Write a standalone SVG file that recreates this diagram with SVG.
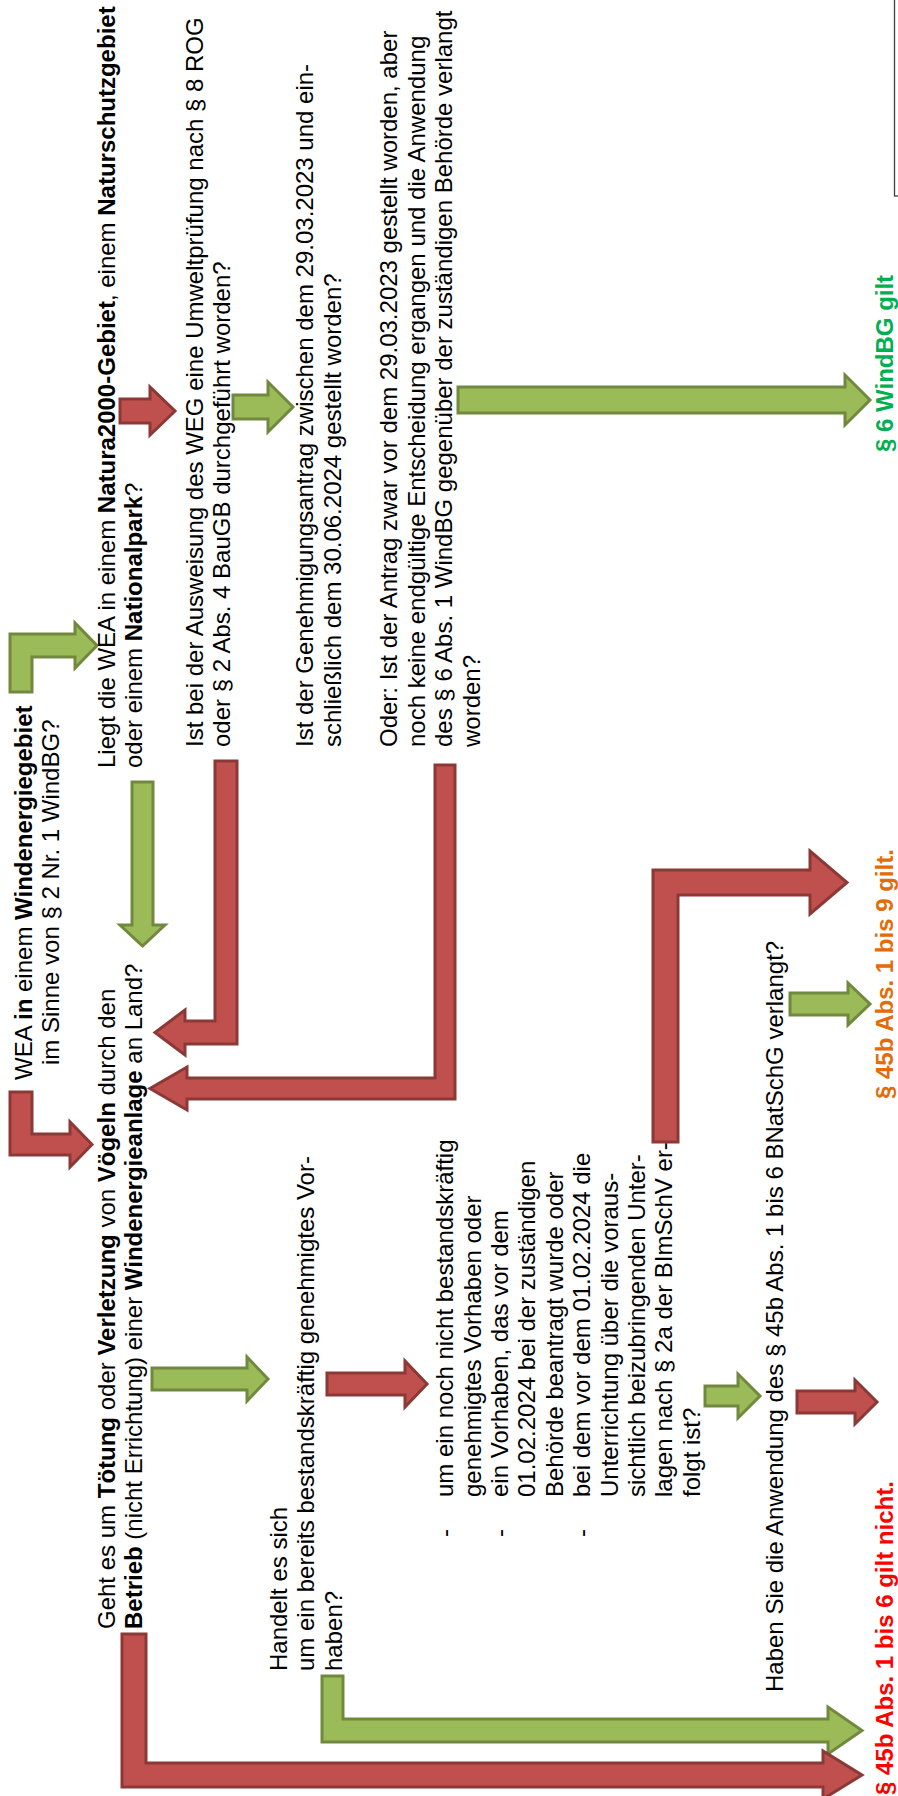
<svg xmlns="http://www.w3.org/2000/svg" width="898" height="1796" viewBox="0 0 898 1796">
<style>
.t{font-family:"Liberation Sans",Arial,sans-serif;font-size:24px;fill:#000}
.b{font-weight:bold}
.ar{fill:#C0504D;stroke:#8C3836;stroke-width:3;stroke-linejoin:miter}
.ag{fill:#9BBB59;stroke:#71893F;stroke-width:3;stroke-linejoin:miter}
.res{font-family:"Liberation Sans",Arial,sans-serif;font-size:24px;font-weight:bold}
</style>
<rect width="898" height="1796" fill="#fff"/>
<rect id="frame" x="894.5" y="-5" width="20" height="201" fill="none" stroke="#404040" stroke-width="1.3"/>
<g id="connectors">
<path class="ar" d="M10,1092 H32 V1134 H70 V1122 L92,1144.5 L70,1167 V1155 H10 Z"/>
<path class="ag" d="M10,692 V634 H75 V623 L97,645.5 L75,668 V657 H32 V692 Z"/>
<path class="ag" d="M132,782 H153 V925 H165 L142.5,946 L120,925 H132 Z"/>
<path class="ar" d="M215,761 H237 V1044 H185 V1055 L155,1032.5 L185,1010 V1021 H215 Z"/>
<path class="ar" d="M435,765 H455 V1099 H187 V1110 L150,1088.5 L187,1067 V1078 H435 Z"/>
<path class="ar" d="M120,399 H150 V387 L175,411 L150,435 V423 H120 Z"/>
<path class="ag" d="M233,395 H268 V382 L293,407 L268,432 V419 H233 Z"/>
<path class="ag" d="M458,387 H845 V375 L870,400 L845,425 V413 H458 Z"/>
<path class="ar" d="M653,1142 V870 H810 V851 L847,882.5 L810,914 V895 H678 V1142 Z"/>
<path class="ag" d="M790,993 H848 V983 L870,1004 L848,1025 V1015 H790 Z"/>
<path class="ag" d="M152,1368 H247 V1357 L268,1379 L247,1401 V1390 H152 Z"/>
<path class="ar" d="M327,1373 H405 V1361 L427,1384 L405,1407 V1395 H327 Z"/>
<path class="ag" d="M705,1386 H738 V1374 L760,1396 L738,1418 V1406 H705 Z"/>
<path class="ar" d="M797,1391 H855 V1380 L877,1402 L855,1424 V1413 H797 Z"/>
<path class="ag" d="M322,1676 H343 V1719 H828 V1707 L862,1730.5 L828,1754 V1742 H322 Z"/>
<path class="ar" d="M122,1634 H146 V1763 H823 V1751 L862,1775 L823,1799 V1787 H122 Z"/>
</g>
<g id="n-windgebiet">
<text class="t" transform="rotate(-90)"><tspan x="-1080" y="32">WEA <tspan class="b">in</tspan> einem <tspan class="b">Windenergiegebiet</tspan></tspan><tspan x="-1065" y="59">im Sinne von § 2 Nr. 1 WindBG?</tspan></text>
</g>
<g id="n-natura">
<text class="t" transform="rotate(-90)"><tspan x="-768" y="115">Liegt die WEA in einem <tspan class="b">Natura2000-Gebiet</tspan>, einem <tspan class="b">Naturschutzgebiet</tspan></tspan><tspan x="-768" y="142">oder einem <tspan class="b">Nationalpark</tspan>?</tspan></text>
</g>
<g id="n-umweltpruefung">
<text class="t" transform="rotate(-90)"><tspan x="-747" y="203">Ist bei der Ausweisung des WEG eine Umweltprüfung nach § 8 ROG</tspan><tspan x="-747" y="230">oder § 2 Abs. 4 BauGB durchgeführt worden?</tspan></text>
</g>
<g id="n-antrag">
<text class="t" transform="rotate(-90)"><tspan x="-747" y="313">Ist der Genehmigungsantrag zwischen dem 29.03.2023 und ein-</tspan><tspan x="-747" y="341">schließlich dem 30.06.2024 gestellt worden?</tspan></text>
</g>
<g id="n-oder">
<text class="t" transform="rotate(-90)"><tspan x="-747" y="397">Oder: Ist der Antrag zwar vor dem 29.03.2023 gestellt worden, aber</tspan><tspan x="-747" y="425">noch keine endgültige Entscheidung ergangen und die Anwendung</tspan><tspan x="-747" y="452">des § 6 Abs. 1 WindBG gegenüber der zuständigen Behörde verlangt</tspan><tspan x="-747" y="480">worden?</tspan></text>
</g>
<g id="n-toetung">
<text class="t" transform="rotate(-90)"><tspan x="-1629" y="115">Geht es um <tspan class="b">Tötung</tspan> oder <tspan class="b">Verletzung</tspan> von <tspan class="b">Vögeln</tspan> durch den</tspan><tspan x="-1629" y="142"><tspan class="b">Betrieb</tspan> (nicht Errichtung) einer <tspan class="b">Windenergieanlage</tspan> an Land?</tspan></text>
</g>
<g id="n-bestand">
<text class="t" transform="rotate(-90)"><tspan x="-1671" y="287">Handelt es sich</tspan><tspan x="-1671" y="314">um ein bereits bestandskräftig genehmigtes Vor-</tspan><tspan x="-1671" y="342">haben?</tspan></text>
</g>
<g id="n-liste">
<text class="t" transform="rotate(-90)"><tspan x="-1537" y="453">-</tspan><tspan x="-1537" y="508">-</tspan><tspan x="-1537" y="590">-</tspan></text>
<text class="t" transform="rotate(-90)"><tspan x="-1497" y="453">um ein noch nicht bestandskräftig</tspan><tspan x="-1497" y="480.5">genehmigtes Vorhaben oder</tspan><tspan x="-1497" y="508">ein Vorhaben, das vor dem</tspan><tspan x="-1497" y="535">01.02.2024 bei der zuständigen</tspan><tspan x="-1497" y="562.5">Behörde beantragt wurde oder</tspan><tspan x="-1497" y="590">bei dem vor dem 01.02.2024 die</tspan><tspan x="-1497" y="617.5">Unterrichtung über die voraus-</tspan><tspan x="-1497" y="645">sichtlich beizubringenden Unter-</tspan><tspan x="-1497" y="672">lagen nach § 2a der BImSchV er-</tspan><tspan x="-1497" y="700">folgt ist?</tspan></text>
</g>
<g id="n-verlangt">
<text class="t" transform="rotate(-90)"><tspan x="-1692" y="783">Haben Sie die Anwendung des § 45b Abs. 1 bis 6 BNatSchG verlangt?</tspan></text>
</g>
<g id="r-windbg">
<text class="res" transform="rotate(-90)" x="-452" y="893" fill="#00B050">§ 6 WindBG gilt</text>
</g>
<g id="r-bis9">
<text class="res" transform="rotate(-90)" x="-1099" y="893" fill="#E36C0A">§ 45b Abs. 1 bis 9 gilt.</text>
</g>
<g id="r-nicht">
<text class="res" transform="rotate(-90)" x="-1795" y="893" fill="#FF0000">§ 45b Abs. 1 bis 6 gilt nicht.</text>
</g>
</svg>
